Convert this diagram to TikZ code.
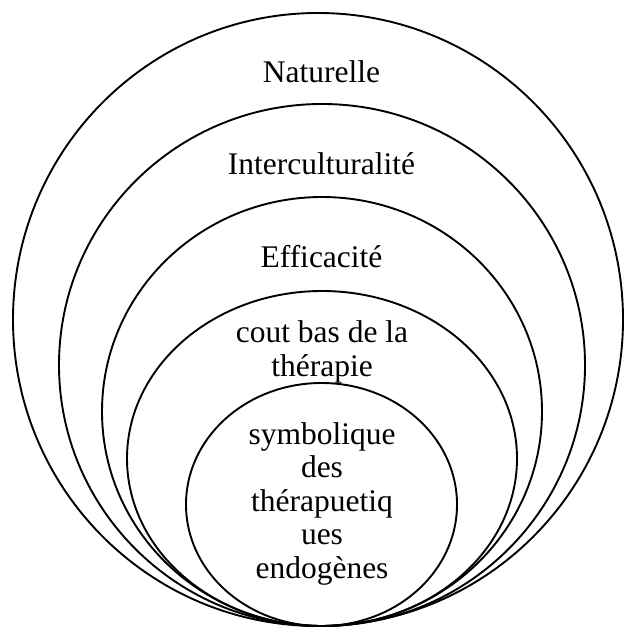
\documentclass[tikz,border=0pt]{standalone}
\usepackage{fontspec}
\setmainfont{Liberation Serif}
\begin{document}
\begin{tikzpicture}[x=1pt,y=-1pt,
  ring/.style={draw=black,line width=1.9pt},
  lbl/.style={font=\fontsize{31.5}{33.4}\selectfont,align=center,anchor=base,inner sep=0pt}]
\useasboundingbox (0,0) rectangle (624,628);
% nested ellipses, all touching at the bottom point
\draw[ring] (318,319.5)   ellipse [x radius=305,   y radius=306.5];
\draw[ring] (322,365)     ellipse [x radius=263,   y radius=261];
\draw[ring] (322,411.5)   ellipse [x radius=220,   y radius=214.5];
\draw[ring] (322,458.5)   ellipse [x radius=195,   y radius=167.5];
\draw[ring] (321.5,504.5) ellipse [x radius=135.5, y radius=121.5];
% labels (multi-line labels are placed by the baseline of their last line)
\node[lbl] (nat)   at (321.5,83)  {Naturelle};
\node[lbl] (inter) at (321.5,175) {Interculturalité};
\node[lbl] (eff)   at (321.5,267) {Efficacité};
\node[lbl] (cout)  at (322,376)   {cout bas de la\\thérapie};
\node[lbl] (sym)   at (322,578)   {symbolique\\des\\thérapuetiq\\ues\\endogènes};
\end{tikzpicture}
\end{document}
